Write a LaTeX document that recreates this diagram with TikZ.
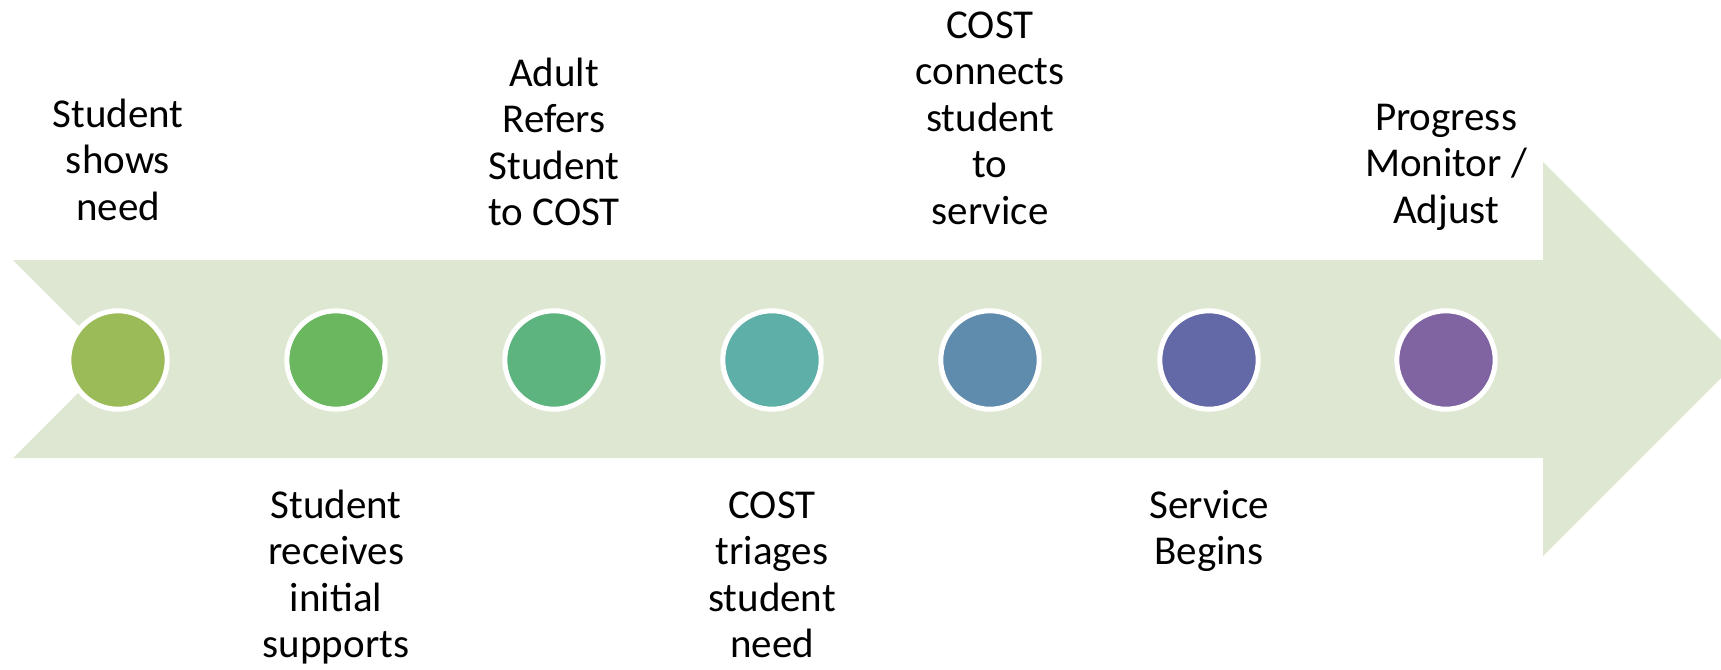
\documentclass[tikz,border=0pt]{standalone}
\usepackage{fontspec}
\setmainfont{Carlito}
\definecolor{arrowbg}{HTML}{DEE7D1}
\definecolor{cA}{HTML}{9BBB59}
\definecolor{cB}{HTML}{6BB760}
\definecolor{cC}{HTML}{5DB47E}
\definecolor{cD}{HTML}{5DAFA7}
\definecolor{cE}{HTML}{5F8BAD}
\definecolor{cF}{HTML}{6368A6}
\definecolor{cG}{HTML}{8064A2}
\tikzset{
  dot/.style={circle, draw=white, line width=2.5pt, minimum size=49.2pt, inner sep=0pt, fill=#1},
  lbl/.style={font=\fontsize{20.5}{23.25}\selectfont, align=center, inner sep=0pt, anchor=north}
}
\begin{document}
\begin{tikzpicture}[x=0.5pt,y=-0.5pt]
\useasboundingbox (0,0) rectangle (1721,670);
\clip (0,0) rectangle (1721,670);
\fill[arrowbg] (13,260) -- (1543,260) -- (1543,162) -- (1740,359) -- (1543,556) -- (1543,458) -- (13,458) -- (112,359) -- cycle;
\node[dot=cA] (c1) at (118,360) {};
\node[dot=cB] (c2) at (336,360) {};
\node[dot=cC] (c3) at (554,360) {};
\node[dot=cD] (c4) at (772,360) {};
\node[dot=cE] (c5) at (990,360) {};
\node[dot=cF] (c6) at (1209,360) {};
\node[dot=cG] (c7) at (1446,360) {};
\node[lbl] (l1) at (118,94.5) {\strut Student\\shows\\need};
\node[lbl] (l3) at (554,53.5) {\strut Adult\\Refers\\Student\\to COST};
\node[lbl] (l5) at (990,5.5) {\strut COST\\connects\\student\\to\\service};
\node[lbl] (l7) at (1446,97.5) {\strut Progress\\Monitor /\\Adjust};
\node[lbl] (l2) at (336,485.5) {\strut Student\\receives\\initial\\supports};
\node[lbl] (l4) at (772,485.5) {\strut COST\\triages\\student\\need};
\node[lbl] (l6) at (1209,485.5) {\strut Service\\Begins};
\end{tikzpicture}
\end{document}
